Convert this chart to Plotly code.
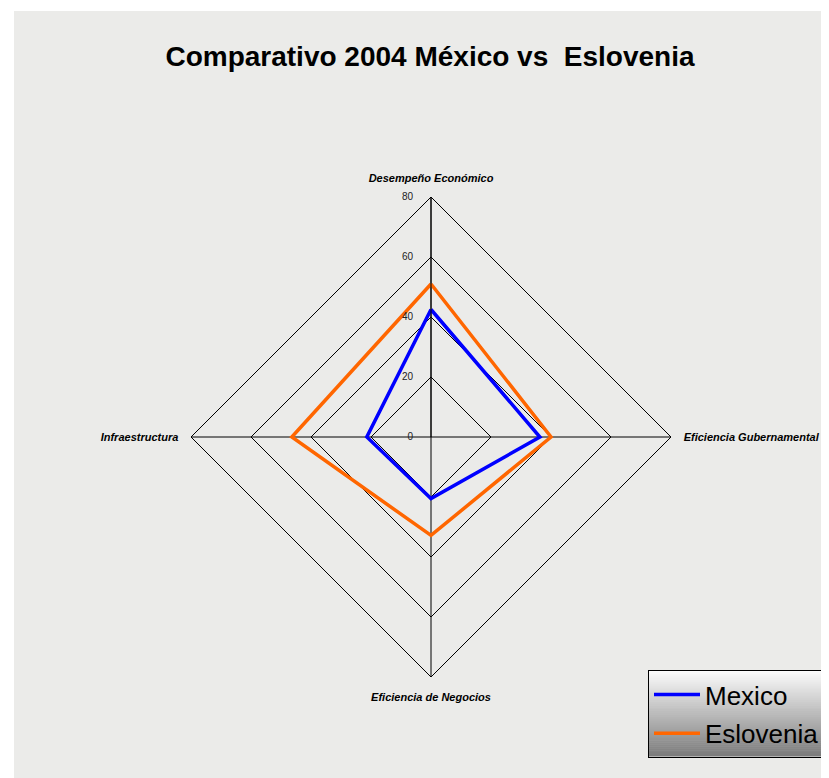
import plotly.graph_objects as go

categorias = ["Desempeño Económico", "Eficiencia Gubernamental",
              "Eficiencia de Negocios", "Infraestructura"]
mexico = [42.5, 36.3, 20.5, 21.4]
eslovenia = [51.0, 40.0, 32.8, 46.4]
ticks_radiales = [0, 20, 40, 60, 80]

# la pagina tiene 8px de margen en el body
OFF = 8
W, H = 829 - OFF, 778 - OFF


def px_x(v):
    return (v - OFF) / W


def px_y(v):
    return 1 - (v - OFF) / H


fig = go.Figure()

# cerramos el poligono repitiendo el primer punto
fig.add_trace(go.Scatterpolar(r=mexico + mexico[:1], theta=categorias + categorias[:1],
                              mode="lines", name="Mexico", legendgroup="mx",
                              line=dict(color="#0000ff", width=3.5)))
fig.add_trace(go.Scatterpolar(r=eslovenia + eslovenia[:1], theta=categorias + categorias[:1],
                              mode="lines", name="Eslovenia", legendgroup="es",
                              line=dict(color="#ff6600", width=3.5)))

# fondo gris (textura aproximada) con borde blanco
shapes = [dict(type="rect", xref="paper", yref="paper", layer="below",
               x0=px_x(14), x1=1, y0=0, y1=px_y(11),
               fillcolor="#ebebe9", line=dict(width=0))]

# degradado de la leyenda
lx0, lx1, ly0, ly1 = 648, 840, 670, 756
n = 44
for i in range(n):
    t = i / (n - 1)
    g = int(252 - t * (252 - 125))
    shapes.append(dict(type="rect", xref="paper", yref="paper", layer="below",
                       x0=px_x(lx0), x1=px_x(lx1),
                       y0=px_y(ly0 + (ly1 - ly0) * (i + 1) / n + 0.5),
                       y1=px_y(ly0 + (ly1 - ly0) * i / n),
                       fillcolor=f"rgb({g},{g},{g})", line=dict(width=0)))

# etiquetas radiales desplazadas a la izquierda del eje
etiquetas_radiales = [str(v) + "\u00a0" * 5 for v in ticks_radiales]

fig.update_layout(
    width=W, height=H,
    paper_bgcolor="white",
    plot_bgcolor="rgba(0,0,0,0)",
    margin=dict(l=0, r=0, t=0, b=0),
    font=dict(family="Liberation Sans, Arial, sans-serif", color="black"),
    title=dict(text="<b>Comparativo 2004 México vs  Eslovenia</b>",
               x=(430 - OFF) / W, xanchor="center", y=px_y(56), yanchor="middle",
               font=dict(size=28, color="black")),
    shapes=shapes,
    polar=dict(
        domain=dict(x=[px_x(191), px_x(671)], y=[px_y(677), px_y(197)]),
        bgcolor="rgba(0,0,0,0)",
        gridshape="linear",
        radialaxis=dict(range=[0, 80], tickvals=ticks_radiales,
                        ticktext=etiquetas_radiales, angle=90,
                        tickangle=90, side="counterclockwise",
                        showline=True, linecolor="black", linewidth=1,
                        gridcolor="black", gridwidth=1, ticks="",
                        tickfont=dict(size=10, color="#222")),
        angularaxis=dict(rotation=90, direction="clockwise",
                         showline=True, linecolor="black", linewidth=1,
                         gridcolor="black", gridwidth=1,
                         ticks="outside", ticklen=10, tickcolor="rgba(0,0,0,0)",
                         tickfont=dict(size=11, color="black",
                                       weight="bold", style="italic")),
    ),
    legend=dict(x=px_x(648), y=px_y(670), xanchor="left", yanchor="top",
                bgcolor="rgba(0,0,0,0)", bordercolor="black", borderwidth=1,
                font=dict(size=26, color="black"),
                itemwidth=46, tracegroupgap=2),
)

fig.write_html("out.html")
